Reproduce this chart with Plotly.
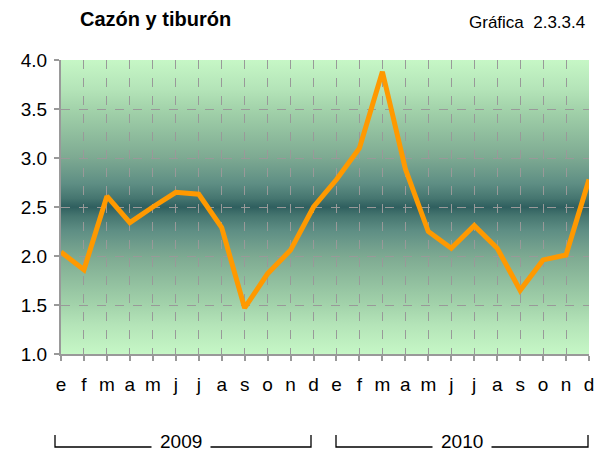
import base64
import plotly.graph_objects as go

months = ["e", "f", "m", "a", "m", "j", "j", "a", "s", "o", "n", "d",
          "e", "f", "m", "a", "m", "j", "j", "a", "s", "o", "n", "d"]
values = [2.04, 1.86, 2.61, 2.34, 2.50, 2.65, 2.63, 2.29, 1.47, 1.82, 2.06, 2.50,
          2.78, 3.10, 3.88, 2.89, 2.25, 2.08, 2.31, 2.08, 1.65, 1.96, 2.01, 2.78]
years = ["2009", "2010"]
title_text = "Cazón y tiburón"
subtitle_text = "Gráfica  2.3.3.4"

x_idx = list(range(len(months)))

# page has an 8px body margin: work in reference pixels, shift by 8
OFF = 8
L, T, R, B = 61, 60, 589, 354          # plot area in reference pixels
W, H = 605 - OFF, 455 - OFF
PW, PH = R - L, B - T

def px(p):
    return (p - L) / PW

def py(p):
    return (B - p) / PH

fig = go.Figure()
fig.add_trace(go.Scatter(
    x=x_idx, y=values, mode="lines",
    line=dict(color="#ff9900", width=5),
    hoverinfo="skip", showlegend=False,
))

# Background vertical gradient via SVG image
grad_stops = [(0, "#c6f7c6"), (10, "#b4e4b8"), (17, "#a2d2aa"), (33, "#7eaa92"),
              (42, "#5e8e84"), (47, "#467670"), (50, "#2f5f5f"),
              (53, "#467670"), (58, "#5e8e84"), (67, "#7eaa92"), (83, "#a2d2aa"),
              (90, "#b4e4b8"), (100, "#c6f7c6")]
stop_xml = "".join('<stop offset="%d%%" stop-color="%s"/>' % s for s in grad_stops)
svg = ('<svg xmlns="http://www.w3.org/2000/svg" width="100" height="300" '
       'preserveAspectRatio="none" viewBox="0 0 100 300">'
       '<defs><linearGradient id="g" x1="0" y1="0" x2="0" y2="1">%s</linearGradient></defs>'
       '<rect x="0" y="0" width="100" height="300" fill="url(#g)"/></svg>') % stop_xml
src = "data:image/svg+xml;base64," + base64.b64encode(svg.encode()).decode()

shapes = []
annotations = []

# Year brackets
brackets = [(55, 311, 181), (336, 588, 462)]
for (xa, xb, xm), yr in zip(brackets, years):
    shapes.append(dict(type="path", xref="paper", yref="paper",
                       path="M %f,%f L %f,%f L %f,%f L %f,%f" % (
                           px(xa), py(435), px(xa), py(447), px(xb), py(447), px(xb), py(435)),
                       line=dict(color="#000000", width=1.3)))
    annotations.append(dict(x=px(xm), y=py(442), xref="paper", yref="paper", text=yr,
                            showarrow=False, bgcolor="white", borderpad=8,
                            xanchor="center", yanchor="middle",
                            font=dict(size=19, color="#000000", family="Liberation Sans")))

annotations.append(dict(x=px(78), y=py(19), xref="paper", yref="paper",
                        text="<b>%s</b>" % title_text, showarrow=False, xanchor="left",
                        yanchor="middle", font=dict(size=20, family="Liberation Sans", color="#000000")))
annotations.append(dict(x=px(587), y=py(23), xref="paper", yref="paper",
                        text=subtitle_text, showarrow=False, xanchor="right",
                        yanchor="middle", font=dict(size=17, family="Liberation Sans", color="#000000")))

fig.update_layout(
    width=W, height=H,
    margin=dict(l=L - OFF, r=605 - R, t=T - OFF, b=H - (B - OFF)),
    paper_bgcolor="white", plot_bgcolor="#c6f7c6",
    font=dict(family="Liberation Sans", color="#000000", size=19),
    shapes=shapes,
    annotations=annotations,
    images=[dict(source=src, xref="paper", yref="paper", x=0, y=1, sizex=1, sizey=1,
                 xanchor="left", yanchor="top", sizing="stretch", layer="below")],
    showlegend=False,
)

fig.update_xaxes(
    range=[0, 23], tickmode="array", tickvals=x_idx, ticktext=months,
    showline=True, linecolor="#999999", linewidth=2,
    ticks="outside", ticklen=5, tickcolor="#999999", tickwidth=2,
    showgrid=True, gridcolor="#999999", gridwidth=1, griddash="dash",
    zeroline=False, ticklabelstandoff=7, fixedrange=True,
)
fig.update_yaxes(
    range=[1, 4], dtick=0.5, tickformat=".1f",
    showline=True, linecolor="#999999", linewidth=2,
    ticks="outside", ticklen=5, tickcolor="#999999", tickwidth=2,
    showgrid=True, gridcolor="#999999", gridwidth=1, griddash="dash",
    zeroline=False, ticklabelstandoff=3, fixedrange=True,
)

fig.write_html("out.html")
